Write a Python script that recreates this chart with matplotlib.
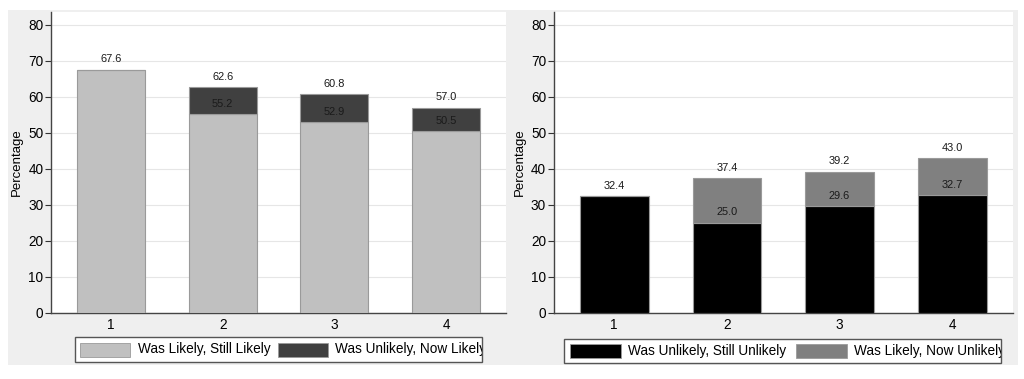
import matplotlib
matplotlib.use("Agg")
import matplotlib.pyplot as plt
from matplotlib.patches import Rectangle
import numpy as np

plt.rcParams['font.family'] = ['Liberation Sans', 'DejaVu Sans']

categories = ["1", "2", "3", "4"]

# Left panel
left_base = [67.6, 55.2, 52.9, 50.5]
left_total = [67.6, 62.6, 60.8, 57.0]
left_base_label = "Was Likely, Still Likely"
left_top_label = "Was Unlikely, Now Likely"

# Right panel
right_base = [32.4, 25.0, 29.6, 32.7]
right_total = [32.4, 37.4, 39.2, 43.0]
right_base_label = "Was Unlikely, Still Unlikely"
right_top_label = "Was Likely, Now Unlikely"

yticks = [0, 10, 20, 30, 40, 50, 60, 70, 80]

W, H = 1024, 379
fig = plt.figure(figsize=(W / 100, H / 100), dpi=100)
fig.patch.set_facecolor('white')

def fx(px):
    return px / W

def fy(py):
    return 1 - py / H

# panel backgrounds (graph regions)
bg = '#efefef'
fig.add_artist(Rectangle((fx(8), fy(365)), fx(506 - 8), (365 - 10) / H,
                         transform=fig.transFigure, facecolor=bg, edgecolor='none', zorder=0))
fig.add_artist(Rectangle((fx(506), fy(365)), fx(1018 - 506), (365 - 10) / H,
                         transform=fig.transFigure, facecolor=bg, edgecolor='none', zorder=0))

def panel(left_px, right_px, base, total, c_base, c_top, edge):
    top_px, bot_px = 12, 312.5
    ax = fig.add_axes([fx(left_px), fy(bot_px), fx(right_px - left_px), (bot_px - top_px) / H])
    ax.set_facecolor('white')
    x = np.arange(1, len(categories) + 1)
    base = np.array(base)
    total = np.array(total)
    ax.bar(x, base, width=0.61, color=c_base, edgecolor=edge, linewidth=0.8, zorder=3)
    ax.bar(x, total - base, bottom=base, width=0.61, color=c_top, edgecolor=edge,
           linewidth=0.8, zorder=3)
    for xi, b, t in zip(x, base, total):
        ax.annotate(f"{t:.1f}", (xi, t), xytext=(0, 7.4), textcoords='offset points',
                    ha='center', va='center', fontsize=7.9, color='#1a1a1a', zorder=5)
        if t - b > 0.05:
            ax.annotate(f"{b:.1f}", (xi, b), xytext=(0, 7.4), textcoords='offset points',
                        ha='center', va='center', fontsize=7.9, color='#1a1a1a', zorder=5)
    ax.set_xlim(0.463, 4.537)
    ax.set_ylim(0, 83.6)
    ax.set_xticks(x)
    ax.set_xticklabels(categories)
    ax.set_yticks(yticks)
    ax.tick_params(axis='y', length=4, width=0.8, pad=1.5, labelsize=9.8, color='#333333')
    ax.tick_params(axis='x', length=0, pad=4, labelsize=9.8)
    for s in ['top', 'right']:
        ax.spines[s].set_visible(False)
    for s in ['left', 'bottom']:
        ax.spines[s].set_color('#444444')
        ax.spines[s].set_linewidth(1.0)
    ax.yaxis.grid(True, color='#e6e6e6', linewidth=0.8, zorder=0)
    ax.set_axisbelow(True)
    ax.set_ylabel("Percentage", fontsize=9.5, labelpad=4)
    return ax

ax1 = panel(51, 506, left_base, left_total, '#c0c0c0', '#404040', '#9a9a9a')
ax2 = panel(553.7, 1012.7, right_base, right_total, '#000000', '#808080', '#9a9a9a')

def legend(x0, x1, y0, y1, p1, t1x, p2, t2x, c1, c2, lab1, lab2):
    box = Rectangle((fx(x0), fy(y1)), fx(x1 - x0), (y1 - y0) / H, transform=fig.transFigure,
                    facecolor='white', edgecolor='#555555', linewidth=1.0, zorder=4)
    fig.add_artist(box)
    ym = (y0 + y1) / 2
    for (a, b), c in [(p1, c1), (p2, c2)]:
        fig.add_artist(Rectangle((fx(a), fy(ym + 7)), fx(b - a), 14 / H, transform=fig.transFigure,
                                 facecolor=c, edgecolor='#9a9a9a', linewidth=0.6, zorder=5))
    for tx, lab in [(t1x, lab1), (t2x, lab2)]:
        t = fig.text(fx(tx), fy(ym), lab, ha='left', va='center', fontsize=9.8, zorder=6)
        t.set_clip_path(box)

legend(75, 482, 337, 362, (80, 130), 138, (278, 328), 335, '#c0c0c0', '#404040',
       left_base_label, left_top_label)
legend(564, 1001, 339, 363, (570, 621), 628, (796, 847), 854, '#000000', '#808080',
       right_base_label, right_top_label)

fig.savefig("out.png", dpi=100, facecolor='white')
